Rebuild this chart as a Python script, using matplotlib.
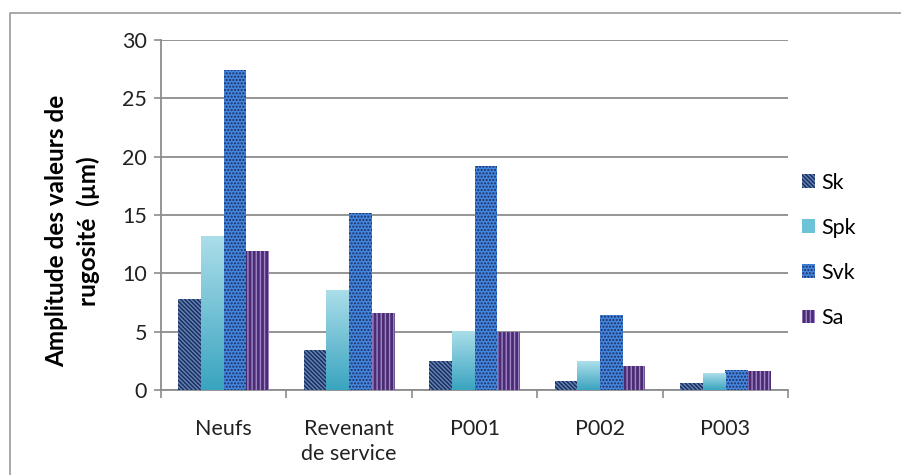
import numpy as np
import matplotlib
matplotlib.use("Agg")
import matplotlib.pyplot as plt
from matplotlib.lines import Line2D
from matplotlib.colors import LinearSegmentedColormap

categories = ["Neufs", "Revenant\nde service", "P001", "P002", "P003"]
series_names = ["Sk", "Spk", "Svk", "Sa"]
sk = [7.8, 3.4, 2.5, 0.8, 0.6]
spk = [13.2, 8.6, 5.1, 2.45, 1.45]
svk = [27.45, 15.2, 19.2, 6.4, 1.75]
sa = [11.9, 6.6, 5.0, 2.1, 1.6]
y_ticks = [0, 5, 10, 15, 20, 25, 30]

plt.rcParams['font.family'] = ['Lato', 'DejaVu Sans']
plt.rcParams['hatch.linewidth'] = 1.0

fig = plt.figure(figsize=(9.01, 4.75), dpi=100)
ax = fig.add_axes([0.1787, 0.1789, 0.8746 - 0.1787, 0.9158 - 0.1789])

x = np.arange(len(categories))
w = 0.181
offsets = (np.arange(4) - 1.5) * w

styles = [
    dict(facecolor="#1b2f5c", edgecolor="#6585bb", hatch="\\" * 8),
    dict(facecolor="#6cc3d8", edgecolor="none", hatch=None),
    dict(facecolor="#4486de", edgecolor="#1c2d60", hatch="." * 5),
    dict(facecolor="#4a2c72", edgecolor="#a085c9", hatch="|" * 4),
]
values = [sk, spk, svk, sa]

ax.set_axisbelow(True)
ax.yaxis.grid(True, color="#8c8c8c", linewidth=1.3)
handles = []
for i, (vals, st) in enumerate(zip(values, styles)):
    bars = ax.bar(x + offsets[i], vals, width=w, linewidth=0, zorder=3, label=series_names[i], **st)
    handles.append(bars)
    if i == 1:
        cmap = LinearSegmentedColormap.from_list("g", ["#3aa4c0", "#acdeea"])
        grad = np.linspace(0, 1, 100).reshape(-1, 1)
        for b in bars:
            bx, by = b.get_x(), b.get_y()
            bw, bh = b.get_width(), b.get_height()
            im = ax.imshow(grad, cmap=cmap, aspect="auto", extent=[bx, bx + bw, by, by + bh],
                           origin="lower", zorder=3.5)
            im.set_clip_path(b)

ax.set_xlim(-0.5, len(categories) - 0.5)
ax.set_ylim(0, 30)
ax.set_yticks(y_ticks)
ax.set_yticklabels([str(t) for t in y_ticks], fontsize=15.5, color="#222222")
ax.set_xticks(x)
ax.set_xticklabels(categories, fontsize=15.5, color="#222222", linespacing=1.3)
ax.tick_params(axis="x", which="major", length=0, pad=21)
ax.set_xticks(np.arange(len(categories) + 1) - 0.5, minor=True)
ax.tick_params(axis="x", which="minor", length=6, color="#8c8c8c", width=1.2)
ax.tick_params(axis="y", length=5, color="#8c8c8c", width=1.2, pad=5)
for s in ["top", "right"]:
    ax.spines[s].set_visible(False)
for s in ["left", "bottom"]:
    ax.spines[s].set_color("#8c8c8c")
    ax.spines[s].set_linewidth(1.3)

ax.set_ylabel("Amplitude des valeurs de\nrugosité  (µm)", fontsize=17.5, fontweight="bold",
              linespacing=1.45)
ax.yaxis.set_label_coords(-0.097, 0.455)

leg = fig.legend(handles=handles, labels=series_names, loc="center left",
                 bbox_to_anchor=(0.869, 0.473), frameon=False, fontsize=15.5,
                 handlelength=0.6, handleheight=0.6, handletextpad=0.3, labelspacing=1.17)

fig.add_artist(Line2D([9.5 / 901, 9.5 / 901, 1.0], [0, 1 - 12.5 / 475, 1 - 12.5 / 475],
                      transform=fig.transFigure, color="#9a9a9a", linewidth=1.2))

fig.savefig("out.png", dpi=100)
